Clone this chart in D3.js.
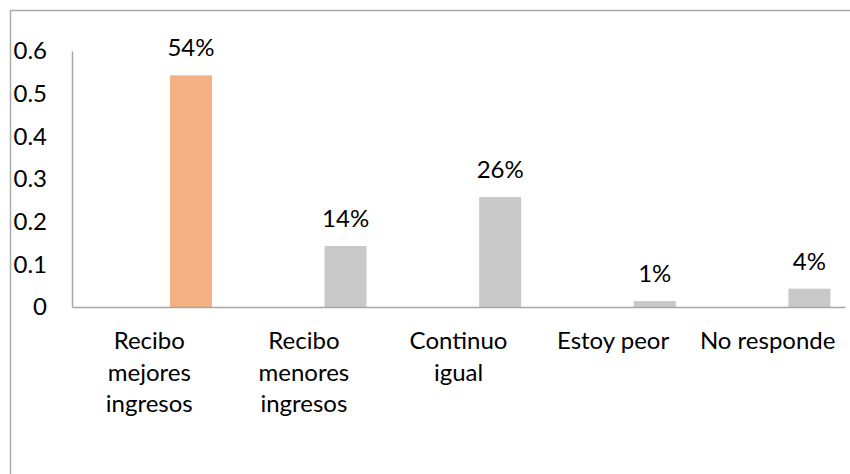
<!DOCTYPE html>
<html><head><meta charset="utf-8">
<script src="https://cdn.jsdelivr.net/npm/d3@7"></script>
<style>
html,body{margin:0;padding:0;background:#fff;overflow:hidden}
text{font-family:Lato, "Open Sans", sans-serif;fill:#000}
</style></head>
<body><svg id="c" width="850" height="474"></svg>
<script>
const categories = [["Recibo","mejores","ingresos"],["Recibo","menores","ingresos"],["Continuo","igual"],["Estoy peor"],["No responde"]];
const values = [0.543, 0.143, 0.258, 0.014, 0.043];
const barColors = ["#F4B183", "#C9C9C9", "#C9C9C9", "#C9C9C9", "#C9C9C9"];
const yTicks = [0, 0.1, 0.2, 0.3, 0.4, 0.5, 0.6];
const seriesSlots = ["empty", "value"];

(function(){
const svg = d3.select("#c");
const mLeft = 72, mRight = 845, mTop = 51, mBottom = 307;
const fs = 24;

// outer frame (only top & left edges visible)
svg.append("rect").attr("x",10.5).attr("y",10.5).attr("width",900).attr("height",600)
  .attr("fill","none").attr("stroke","#ABABAB").attr("stroke-width",1.5);

const keys = categories.map((c,i)=>i);
const x = d3.scaleBand().domain(keys).range([mLeft,mRight]).padding(0);
const x1 = d3.scaleBand().domain(seriesSlots).range([0,x.bandwidth()]).paddingInner(0.496).paddingOuter(0.175);
const y = d3.scaleLinear().domain([0,0.6]).range([mBottom,mTop]);

// bars
svg.append("g").selectAll("rect").data(values).join("rect")
  .attr("x",(d,i)=>x(i)+x1("value"))
  .attr("width",x1.bandwidth())
  .attr("y",d=>y(d))
  .attr("height",d=>y(0)-y(d))
  .attr("fill",(d,i)=>barColors[i]);

// y axis
const ya = svg.append("g").attr("transform",`translate(${mLeft},0)`)
  .call(d3.axisLeft(y).tickValues(yTicks).tickSize(0).tickPadding(25).tickFormat(d3.format("")));
ya.select(".domain").attr("stroke","#A6A6A6").attr("stroke-width",1.5);
ya.selectAll("text").style("font-family","Lato, sans-serif").style("font-size",fs+"px").attr("fill","#000");

// x axis
const xa = svg.append("g").attr("transform",`translate(0,${mBottom})`)
  .call(d3.axisBottom(x).tickSize(0).tickFormat(""));
xa.select(".domain").attr("stroke","#A6A6A6").attr("stroke-width",1.5);

// category labels
const cl = svg.append("g").selectAll("text").data(categories).join("text")
  .attr("text-anchor","middle")
  .style("font-size",fs+"px");
cl.each(function(lines,i){
  const t = d3.select(this);
  lines.forEach((ln,j)=>{
    t.append("tspan").attr("x",x(i)+x.bandwidth()/2).attr("y",349+j*31.6).text(ln);
  });
});

// value labels
svg.append("g").selectAll("text").data(values).join("text")
  .attr("text-anchor","middle")
  .style("font-size",fs+"px")
  .attr("x",(d,i)=>x(i)+x1("value")+x1.bandwidth()/2)
  .attr("y",d=>y(d)-19)
  .text(d=>d3.format(".0%")(d));
})();
</script></body></html>
